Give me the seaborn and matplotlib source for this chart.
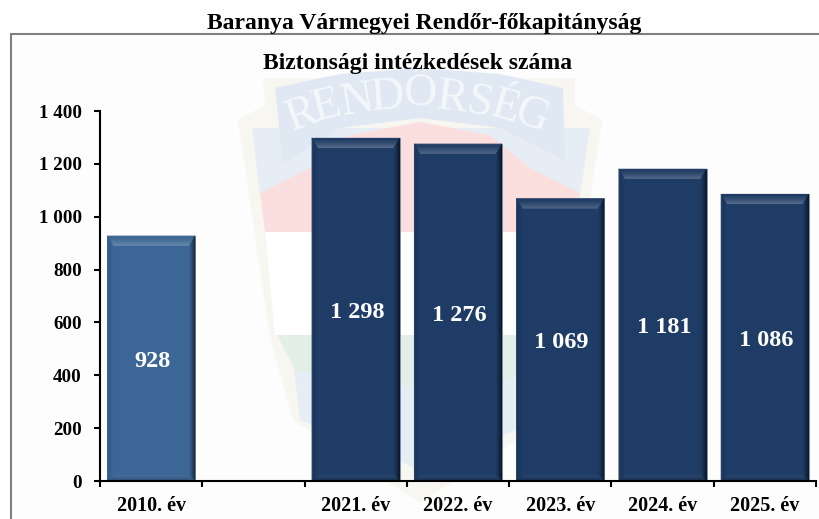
import numpy as np
import pandas as pd
import matplotlib
matplotlib.use('Agg')
import matplotlib.pyplot as plt
import seaborn as sns
from matplotlib.colors import to_rgb
from matplotlib.patches import Polygon, Rectangle

categories = ['2010. év', ' ', '2021. év', '2022. év', '2023. év', '2024. év', '2025. év']
values = [928, np.nan, 1298, 1276, 1069, 1181, 1086]
bar_colors = ['#3b6696', '#1e3c66', '#1e3c66', '#1e3c66', '#1e3c66', '#1e3c66', '#1e3c66']
y_ticks = [0, 200, 400, 600, 800, 1000, 1200, 1400]

sns.set_theme(style='white')
plt.rcParams['font.family'] = ['Liberation Serif', 'DejaVu Serif']
plt.rcParams['font.weight'] = 'bold'

fig = plt.figure(figsize=(8.2, 5.19), dpi=100, facecolor='white')


def hu_number(v):
    return f"{v:,.0f}".replace(',', ' ')


def mix(color, other, amount):
    a, b = np.array(to_rgb(color)), np.array(to_rgb(other))
    return tuple(a + (b - a) * amount)


def draw_watermark(bg):
    # background frame and faint police badge, in picture pixels
    bg.add_patch(Rectangle((11.5, 33.5), 830, 500, fc='#fdfdfd', ec='#7f7f7f', lw=1.5))
    shapes = [
        ('#f8f6f0', [(238, 120), (265, 105), (263, 78), (575, 78), (575, 105), (602, 120),
                     (570, 337), (547, 420), (420, 503), (293, 420), (270, 337)]),
        ('#e6edf5', [(252, 128), (590, 128), (580, 195), (260, 195)]),
        ('#dfe8f3', [(275, 88), (340, 74), (420, 68), (500, 74), (563, 88), (565, 160),
                     (500, 128), (420, 118), (340, 128), (283, 163)]),
        ('#fbdfdf', [(260, 193), (310, 168), (350, 135), (420, 122), (490, 135), (530, 168),
                     (580, 193), (575, 232), (265, 232)]),
        ('#ffffff', [(265, 232), (575, 232), (565, 335), (275, 335)]),
        ('#e6eef5', [(293, 362), (548, 362), (540, 420), (420, 470), (300, 420)]),
        ('#e2efe6', [(277, 335), (563, 335), (545, 370), (480, 385), (360, 385), (295, 370)]),
    ]
    for color, points in shapes:
        bg.add_patch(Polygon(points, fc=color, ec='none'))
    letters = [('R', 302, 115, 20), ('E', 327, 107, 14), ('N', 357, 101, 9), ('D', 387, 98, 4),
               ('Ő', 420, 94, -1), ('R', 452, 99, -7), ('S', 480, 104, -12), ('É', 505, 108, -16),
               ('G', 532, 116, -20)]
    for letter, px, py, rot in letters:
        bg.text(px, py, letter, fontsize=33, fontweight='normal', color='#f5f8fb',
                rotation=rot, ha='center', va='center')


def draw_bevel(ax, patch, base, bevel_x, bevel_top, bevel_y, steps=10):
    x, y = patch.get_x(), patch.get_y()
    w, h = patch.get_width(), patch.get_height()
    outer = np.array([(x, y + h), (x + w, y + h), (x + w, y), (x, y)])
    inner = np.array([(x + bevel_x, y + h - bevel_top), (x + w - bevel_x, y + h - bevel_top),
                      (x + w - bevel_x, y + bevel_y), (x + bevel_x, y + bevel_y)])
    # outer and inner colour of top, right, bottom, left, with the curve of the shading
    sides = [
        (mix(base, 'black', 0.05), mix(base, 'white', 0.26), 1.3),
        (mix(base, 'black', 0.85), base, 0.7),
        (mix(base, 'black', 0.25), mix(base, 'white', 0.07), 1.0),
        (mix(base, 'black', 0.15), base, 1.0),
    ]
    for i, (c0, c1, curve) in enumerate(sides):
        j = (i + 1) % 4
        for k in range(steps):
            t0, t1 = k / steps, (k + 1) / steps
            a = outer[i] + (inner[i] - outer[i]) * t0
            b = outer[j] + (inner[j] - outer[j]) * t0
            c = outer[j] + (inner[j] - outer[j]) * t1
            d = outer[i] + (inner[i] - outer[i]) * t1
            shade = mix(c0, c1, ((t0 + t1) / 2) ** curve)
            ax.add_patch(Polygon([a, b, c, d], fc=shade, ec=shade, lw=0.1, zorder=3))


bg = fig.add_axes([0, 0, 1, 1], zorder=0)
bg.set_xlim(0, 820)
bg.set_ylim(519, 0)
bg.axis('off')
draw_watermark(bg)

ax = fig.add_axes([100 / 820, (519 - 481) / 519, 716 / 820, 370 / 519], zorder=1)
ax.patch.set_alpha(0)

df = pd.DataFrame({'category': categories, 'value': values})
sns.barplot(data=df, x='category', y='value', hue='category', palette=bar_colors, order=categories,
            hue_order=categories, legend=False, width=0.86, saturation=1, ax=ax,
            edgecolor='#8090a8', linewidth=0.6, zorder=2)

ax.set_xlim(-0.5, len(categories) - 0.5)
ax.set_ylim(0, 1400)
ax.set_xlabel('')
ax.set_ylabel('')

# bevel effect on each bar
px_x = 1 / (716 / len(categories))
px_y = 1400 / 370
for container in ax.containers:
    for patch in container.patches:
        if np.isfinite(patch.get_height()) and patch.get_height() > 0:
            draw_bevel(ax, patch, patch.get_facecolor(), 6 * px_x, 10 * px_y, 6 * px_y)

for container in ax.containers:
    heights = [p.get_height() for p in container.patches]
    if np.isfinite(heights).all() and sum(heights) > 0:
        for t in ax.bar_label(container, labels=[hu_number(h) for h in heights], label_type='center',
                              color='white', fontsize=17.5, fontweight='bold'):
            t.set_zorder(5)
            t.xyann = (1, -2)

ax.set_yticks(y_ticks)
ax.set_yticklabels([hu_number(v) for v in y_ticks], fontsize=13.7, fontweight='bold', color='black')
ax.set_xticks(np.arange(len(categories) + 1) - 0.5, labels=[''] * (len(categories) + 1))
ax.set_xticks(np.arange(len(categories)), labels=categories, minor=True)
ax.tick_params(axis='y', which='major', left=True, length=4.5, width=1.5, color='black', pad=8.5)
ax.tick_params(axis='x', which='major', bottom=True, length=4.5, width=1.5, color='black')
ax.tick_params(axis='x', which='minor', bottom=False, length=0, pad=10.5, labelsize=14.5, labelcolor='black')
for label in ax.get_xticklabels(minor=True):
    label.set_fontweight('bold')

for side in ['top', 'right']:
    ax.spines[side].set_visible(False)
for side in ['left', 'bottom']:
    ax.spines[side].set_color('black')
    ax.spines[side].set_linewidth(1.5)
    ax.spines[side].set_zorder(6)

fig.text(424.5 / 820, 1 - 24 / 519, 'Baranya Vármegyei Rendőr-főkapitányság', ha='center', va='center',
         fontsize=17, fontweight='bold', color='black')
fig.text(418 / 820, 1 - 63 / 519, 'Biztonsági intézkedések száma', ha='center', va='center',
         fontsize=17, fontweight='bold', color='black')

fig.savefig('out.png', dpi=100, facecolor='white')
